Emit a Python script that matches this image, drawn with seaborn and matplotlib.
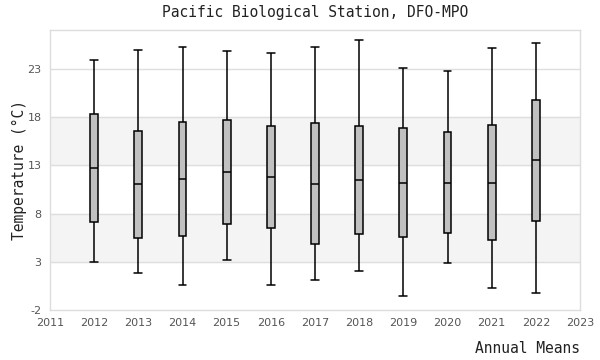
import numpy as np
import pandas as pd
import seaborn as sns
import matplotlib
matplotlib.use("Agg")
import matplotlib.pyplot as plt

years = [2012, 2013, 2014, 2015, 2016, 2017, 2018, 2019, 2020, 2021, 2022]
mins = [2.98, 1.8, 0.56, 3.15, 0.56, 1.08, 2.0, -0.58, 2.84, 0.25, -0.27]
q1s = [7.1, 5.44, 5.65, 6.89, 6.47, 4.82, 5.85, 5.54, 5.95, 5.23, 7.2]
medians = [12.73, 11.04, 11.56, 12.28, 11.8, 11.04, 11.46, 11.14, 11.14, 11.14, 13.53]
q3s = [18.3, 16.57, 17.47, 17.68, 17.06, 17.37, 17.06, 16.85, 16.43, 17.16, 19.75]
maxs = [23.9, 24.94, 25.28, 24.84, 24.63, 25.25, 25.97, 23.14, 22.76, 25.14, 25.66]
yticks = [-2, 3, 8, 13, 18, 23]
xticks = list(range(2011, 2024))

rows = []
for y, a, b, c, d, e in zip(years, mins, q1s, medians, q3s, maxs):
    for v in (a, b, c, d, e):
        rows.append({"year": y, "temp": v})
df = pd.DataFrame(rows)

sns.set_style("white")
fig = plt.figure(figsize=(6, 3.6), dpi=100)
ax = fig.add_axes([50/600, 50/360, 530/600, 280/360])

# shaded bands
ax.axhspan(3, 8, color="#f4f4f4", zorder=0)
ax.axhspan(13, 18, color="#f4f4f4", zorder=0)
for t in yticks[1:]:
    ax.axhline(t, color="#dedede", lw=1, zorder=0.5)

n_before = len(ax.lines)
sns.boxplot(data=df, x="year", y="temp", native_scale=True, whis=(0, 100),
            width=0.18, color="#c0c0c0", linecolor="black", linewidth=1.1,
            fill=True, ax=ax, zorder=3, saturation=1)

# widen whisker caps to the box width
half = 0.18 / 2
for ln in ax.lines[n_before:]:
    xd = np.asarray(ln.get_xdata(), dtype=float)
    yd = np.asarray(ln.get_ydata(), dtype=float)
    if len(xd) == 2 and yd[0] == yd[1] and xd[0] != xd[1]:
        c = xd.mean()
        if abs((xd[1] - xd[0])) < 0.18 * 0.95:
            ln.set_xdata([c - half, c + half])

ax.set_xlim(2011, 2023)
ax.set_ylim(-2, 27.05)
ax.set_xticks(xticks)
ax.set_xticklabels([str(x) for x in xticks])
ax.set_yticks(yticks)
ax.set_yticklabels([str(t) for t in yticks])
ax.tick_params(axis="both", length=0, labelsize=8, colors="#555555", pad=6)
for s in ax.spines.values():
    s.set_color("#dddddd")
    s.set_linewidth(1)

mono = "DejaVu Sans Mono"
ax.set_title("Pacific Biological Station, DFO-MPO", fontfamily=mono,
             fontsize=10.5, color="#222222", pad=9)
ax.set_ylabel("Temperature (°C)", fontfamily=mono, fontsize=10.5,
              color="#222222")
ax.yaxis.set_label_coords(-0.043, 0.5)
ax.set_xlabel("Annual Means", fontfamily=mono, fontsize=10.5,
              color="#222222", loc="right", labelpad=9)

fig.savefig("out.png", dpi=100)
